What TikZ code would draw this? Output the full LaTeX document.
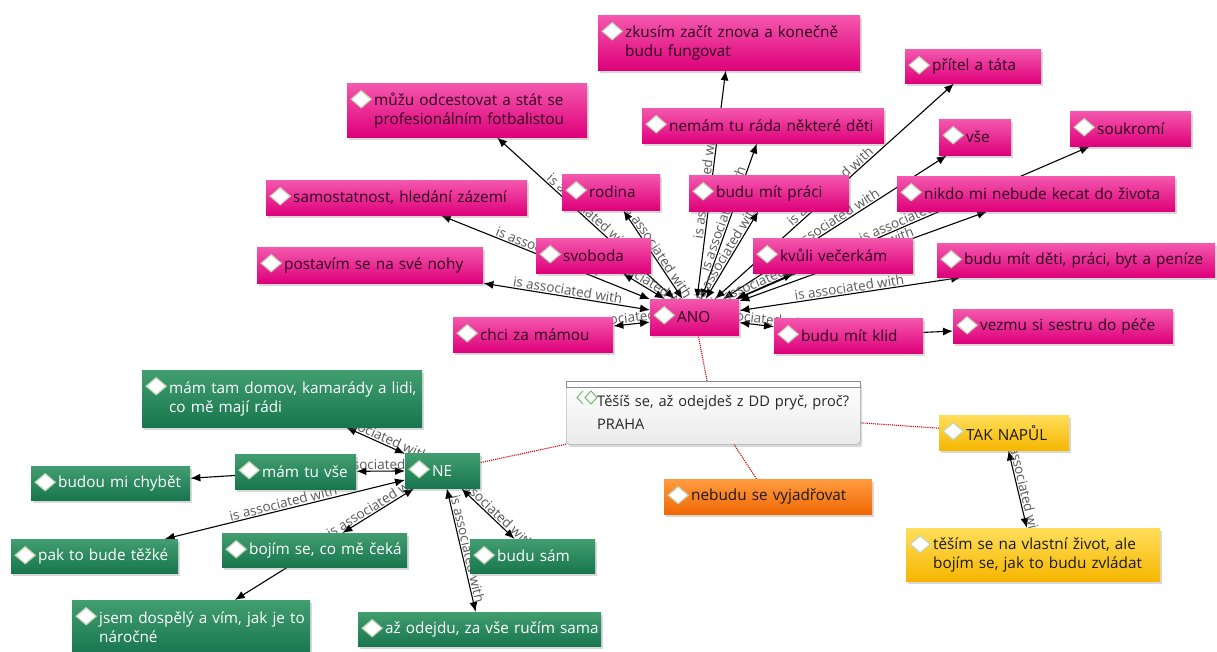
\documentclass[tikz,border=0pt]{standalone}
\usepackage{fontspec}
\setmainfont{Open Sans}
\usetikzlibrary{arrows.meta,shadows,backgrounds,calc}

\pgfdeclarelayer{edgelayer}
\pgfsetlayers{background,edgelayer,main}

\definecolor{pinkTop}{RGB}{244,88,174}
\definecolor{pinkBot}{RGB}{222,0,122}
\definecolor{pinkText}{RGB}{45,0,30}
\definecolor{greenTop}{RGB}{66,158,112}
\definecolor{greenBot}{RGB}{24,118,78}
\definecolor{yellowTop}{RGB}{255,222,90}
\definecolor{yellowBot}{RGB}{246,182,0}
\definecolor{orangeTop}{RGB}{255,156,64}
\definecolor{orangeBot}{RGB}{240,104,4}
\definecolor{iconEdge}{RGB}{196,214,186}

\tikzset{
  box/.style={rectangle, anchor=north west, inner xsep=0pt, inner ysep=0pt,
    align=left, font=\fontsize{15.3}{19}\selectfont,
    execute at begin node={\leftskip=27pt},
    drop shadow={shadow xshift=2pt, shadow yshift=-3pt, opacity=0.3},
    path picture={\filldraw[fill=white, draw=iconEdge, line width=1.2pt]
      ($(path picture bounding box.north west)+(14,16)$) +(-10,0) -- +(0,-8.5) -- +(10,0) -- +(0,8.5) -- cycle;}},
  pinkbox/.style={box, top color=pinkTop, bottom color=pinkBot, text=pinkText},
  greenbox/.style={box, top color=greenTop, bottom color=greenBot, text=white},
  yellowbox/.style={box, top color=yellowTop, bottom color=yellowBot, text=black!90},
  orangebox/.style={box, top color=orangeTop, bottom color=orangeBot, text=black!90},
  qbox/.style={rectangle, anchor=north west, rounded corners=3pt, draw=black!45,
    top color=white, bottom color=black!8, inner sep=0pt, align=left,
    font=\fontsize{14.6}{23}\selectfont, text=black!85,
    execute at begin node={\leftskip=31pt},
    drop shadow={shadow xshift=2pt, shadow yshift=-3pt, opacity=0.3}},
  assoc/.style={{Latex[length=10pt,width=8pt]}-{Latex[length=10pt,width=8pt]}, line width=1.1pt},
  oneway/.style={-{Latex[length=10pt,width=8pt]}, line width=1.1pt},
  lab/.style={font=\fontsize{13.5}{16}\selectfont, text=black!65, sloped, above, inner sep=1pt},
  link/.style={red!80!black, densely dotted, line width=1.1pt}
}

\begin{document}
\begin{tikzpicture}[x=1pt,y=-1pt]
\begin{pgfonlayer}{background}
\fill[white] (0,0) rectangle (1217,651);
\end{pgfonlayer}
\useasboundingbox (0,0) rectangle (1217,651);

% ANO branch
\node[pinkbox, minimum width=262, minimum height=55, text width=262] (zkus) at (598,15) {zkusím začít znova a konečně\\budu fungovat};
\node[pinkbox, minimum width=136, minimum height=34, text width=136] (pritel) at (905,49) {přítel a táta};
\node[pinkbox, minimum width=240, minimum height=54, text width=240] (muzu) at (347,83) {můžu odcestovat a stát se\\profesionálním fotbalistou};
\node[pinkbox, minimum width=242, minimum height=35, text width=242] (nemam) at (642,108) {nemám tu ráda některé děti};
\node[pinkbox, minimum width=72, minimum height=36, text width=72] (vse) at (939,119) {vše};
\node[pinkbox, minimum width=121, minimum height=35, text width=121] (souk) at (1070,111) {soukromí};
\node[pinkbox, minimum width=98, minimum height=36, text width=98] (rodina) at (562,174) {rodina};
\node[pinkbox, minimum width=261, minimum height=35, text width=261] (samo) at (266,180) {samostatnost, hledání zázemí};
\node[pinkbox, minimum width=160, minimum height=36, text width=160] (prace) at (689,175) {budu mít práci};
\node[pinkbox, minimum width=278, minimum height=35, text width=278] (nikdo) at (897,176) {nikdo mi nebude kecat do života};
\node[pinkbox, minimum width=115, minimum height=35, text width=115] (svoboda) at (536,238) {svoboda};
\node[pinkbox, minimum width=226, minimum height=36, text width=226] (postavim) at (257,247) {postavím se na své nohy};
\node[pinkbox, minimum width=160, minimum height=35, text width=160] (kvuli) at (753,238) {kvůli večerkám};
\node[pinkbox, minimum width=278, minimum height=34, text width=278] (deti) at (937,243) {budu mít děti, práci, byt a peníze};
\node[pinkbox, minimum width=89, minimum height=36, text width=89] (ano) at (650,299) {ANO};
\node[pinkbox, minimum width=160, minimum height=35, text width=160] (chci) at (453,317) {chci za mámou};
\node[pinkbox, minimum width=149, minimum height=35, text width=149] (klid) at (774,318) {budu mít klid};
\node[pinkbox, minimum width=220, minimum height=34, text width=220] (vezmu) at (953,309) {vezmu si sestru do péče};

% NE branch
\node[greenbox, minimum width=280, minimum height=57, text width=280] (domov) at (142,370) {mám tam domov, kamarády a lidi,\\co mě mají rádi};
\node[greenbox, minimum width=121, minimum height=35, text width=121] (tuvse) at (235,454) {mám tu vše};
\node[greenbox, minimum width=159, minimum height=34, text width=159] (chybet) at (31,466) {budou mi chybět};
\node[greenbox, minimum width=75, minimum height=35, text width=75] (ne) at (405,453) {NE};
\node[greenbox, minimum width=167, minimum height=34, text width=167] (tezke) at (11,539) {pak to bude těžké};
\node[greenbox, minimum width=185, minimum height=34, text width=185] (bojim) at (222,533) {bojím se, co mě čeká};
\node[greenbox, minimum width=125, minimum height=34, text width=125] (sam) at (470,539) {budu sám};
\node[greenbox, minimum width=238, minimum height=54, text width=238] (dospely) at (72,600) {jsem dospělý a vím, jak je to\\náročné};
\node[greenbox, minimum width=243, minimum height=34, text width=243] (odejdu) at (358,612) {až odejdu, za vše ručím sama};

% question and the other answers
\node[qbox, minimum width=294, minimum height=63, text width=294] (q) at (566,381) {Těšíš se, až odejdeš z DD pryč, proč?\\PRAHA};
\draw[fill=white, draw=black!45] (q.north west) rectangle ([yshift=-6pt]q.north east);
\draw[green!55!black!60, line width=0.9pt] (583,391) -- (577,397.5) -- (583,404)
  (591,391) -- (585,397.5) -- (591,404) -- (597,397.5) -- cycle;
\node[yellowbox, minimum width=130, minimum height=35, text width=130] (tak) at (939,415) {TAK NAPŮL};
\node[yellowbox, minimum width=254, minimum height=53, text width=254] (tesim) at (906,528) {těším se na vlastní život, ale\\bojím se, jak to budu zvládat};
\node[orangebox, minimum width=208, minimum height=35, text width=208] (nebudu) at (664,479) {nebudu se vyjadřovat};

\begin{pgfonlayer}{edgelayer}
\foreach \t in {zkus,pritel,muzu,nemam,vse,souk,rodina,samo,prace,nikdo,svoboda,postavim,kvuli,deti,chci,klid}{
  \draw[assoc] (ano) -- node[lab] {is associated with} (\t);
}
\draw[oneway] (klid) -- (vezmu);
\foreach \t in {domov,tuvse,tezke,bojim,sam,odejdu}{
  \draw[assoc] (ne) -- node[lab] {is associated with} (\t);
}
\draw[oneway] (tuvse) -- (chybet);
\draw[oneway] (bojim) -- (dospely);
\draw[assoc] (tak) -- node[lab] {is associated with} (tesim);
% dotted links from the question
\draw[link] (q) -- (ano);
\draw[link] (q) -- (ne);
\draw[link] (q) -- (tak);
\draw[link] (q) -- (nebudu);
\end{pgfonlayer}
\end{tikzpicture}
\end{document}
